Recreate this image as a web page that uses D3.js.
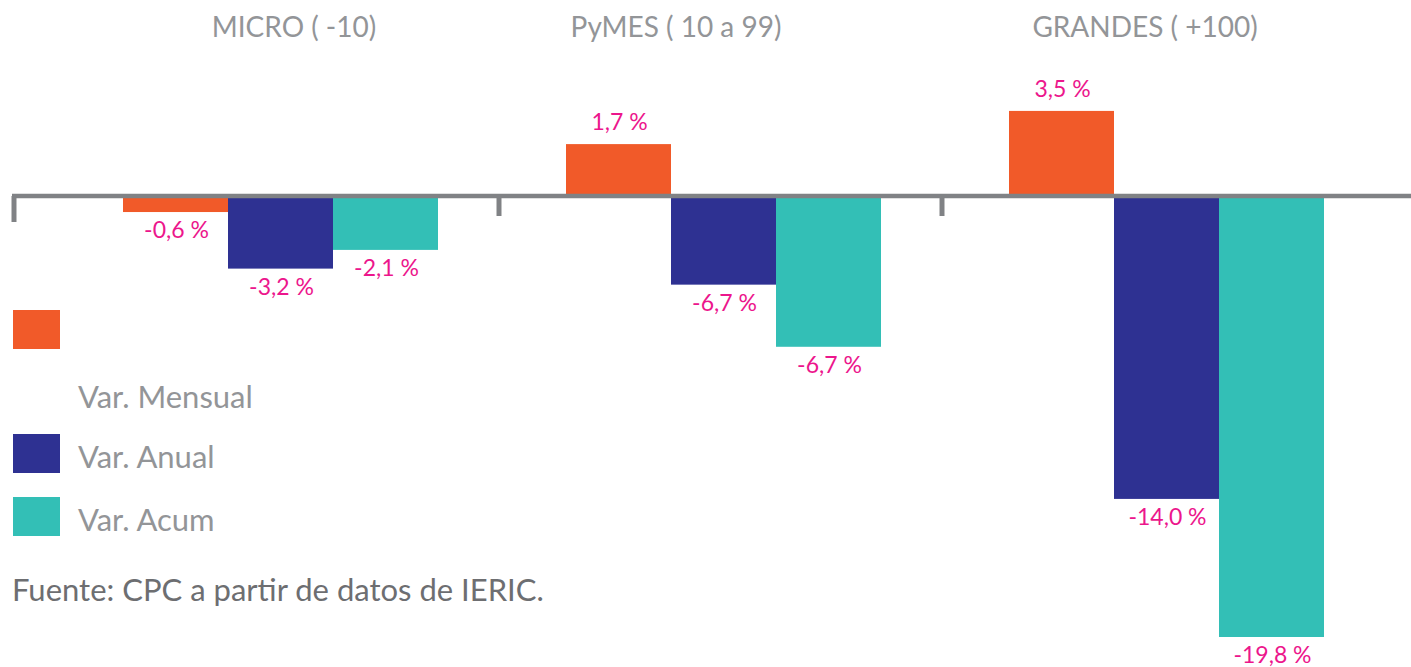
<!DOCTYPE html>
<html>
<head>
<meta charset="utf-8">
<script src="https://cdn.jsdelivr.net/npm/d3@7"></script>
<style>
  body { margin: 0; background: #fff; }
  text { font-family: Lato, "Open Sans", sans-serif; }
</style>
</head>
<body>
<svg id="chart" width="1411" height="667"></svg>
<script>
var groups = ["MICRO ( -10)", "PyMES ( 10 a 99)", "GRANDES ( +100)"];
var series = ["Var. Mensual", "Var. Anual", "Var. Acum"];

// bar lengths as drawn in the picture
var mensual = [-0.72, 2.33, 3.82];
var anual = [-3.26, -3.98, -13.6];
var acum = [-2.42, -6.77, -19.8];

// labels printed over the bars
var mensualLbl = ["-0,6 %", "1,7 %", "3,5 %"];
var anualLbl = ["-3,2 %", "-6,7 %", "-14,0 %"];
var acumLbl = ["-2,1 %", "-6,7 %", "-19,8 %"];

var colors = ["#f15a29", "#2e3192", "#33bfb6"];
var fuente = "Fuente: CPC a partir de datos de IERIC.";

var svg = d3.select("#chart");

var x0 = d3.scaleBand().domain(groups).range([59, 1388]);
var x1 = d3.scaleBand().domain(series).range([0, 315]);
var y = d3.scaleLinear().domain([0, -19.8]).range([196, 637]);

var rows = [];
groups.forEach(function(g, i) {
  rows.push({g: g, s: series[0], v: mensual[i], lbl: mensualLbl[i]});
  rows.push({g: g, s: series[1], v: anual[i], lbl: anualLbl[i]});
  rows.push({g: g, s: series[2], v: acum[i], lbl: acumLbl[i]});
});

function barX(d) {
  return x0(d.g) + (x0.bandwidth() - 315) / 2 + x1(d.s);
}

svg.selectAll("rect.bar")
  .data(rows)
  .enter().append("rect")
  .attr("class", "bar")
  .attr("x", barX)
  .attr("width", x1.bandwidth())
  .attr("y", function(d) { return d.v > 0 ? y(d.v) : y(0); })
  .attr("height", function(d) { return Math.abs(y(d.v) - y(0)); })
  .style("fill", function(d) { return colors[series.indexOf(d.s)]; });

// axis line + ticks
var axisCol = "#808285";
svg.append("line")
  .attr("x1", 12).attr("x2", 1411)
  .attr("y1", y(0)).attr("y2", y(0))
  .style("stroke", axisCol).style("stroke-width", 4.5);
svg.append("line")
  .attr("x1", 14).attr("x2", 14)
  .attr("y1", y(0)).attr("y2", y(0) + 26)
  .style("stroke", axisCol).style("stroke-width", 5);
svg.selectAll("line.tick")
  .data(groups.slice(1))
  .enter().append("line")
  .attr("class", "tick")
  .attr("x1", function(d) { return x0(d) - 3; })
  .attr("x2", function(d) { return x0(d) - 3; })
  .attr("y1", y(0)).attr("y2", y(0) + 20)
  .style("stroke", axisCol).style("stroke-width", 5);

// value labels
svg.selectAll("text.val")
  .data(rows)
  .enter().append("text")
  .attr("class", "val")
  .attr("x", function(d) { return barX(d) + x1.bandwidth() / 2 + 1; })
  .attr("y", function(d) { return d.v > 0 ? y(d.v) - 14 : y(d.v) + 26; })
  .attr("text-anchor", "middle")
  .style("font-size", "23px")
  .style("fill", "#ec168c")
  .text(function(d) { return d.lbl; });

// group titles
var titleX = [294, 676, 1145];
svg.selectAll("text.title")
  .data(groups)
  .enter().append("text")
  .attr("class", "title")
  .attr("x", function(d, i) { return titleX[i]; })
  .attr("y", 37)
  .attr("text-anchor", "middle")
  .style("font-size", "28px")
  .style("fill", "#939598")
  .text(function(d) { return d; });

// legend
var legSq = [310, 434, 497];
var legTx = [408, 468, 531];
svg.selectAll("rect.leg")
  .data(series)
  .enter().append("rect")
  .attr("class", "leg")
  .attr("x", 13)
  .attr("y", function(d, i) { return legSq[i]; })
  .attr("width", 47).attr("height", 39)
  .style("fill", function(d, i) { return colors[i]; });
svg.selectAll("text.leg")
  .data(series)
  .enter().append("text")
  .attr("class", "leg")
  .attr("x", 78)
  .attr("y", function(d, i) { return legTx[i]; })
  .style("font-size", "31px")
  .style("fill", "#939598")
  .text(function(d) { return d; });

svg.append("text")
  .attr("x", 12).attr("y", 601)
  .style("font-size", "31px")
  .style("fill", "#6d6e71")
  .text(fuente);
</script>
</body>
</html>
